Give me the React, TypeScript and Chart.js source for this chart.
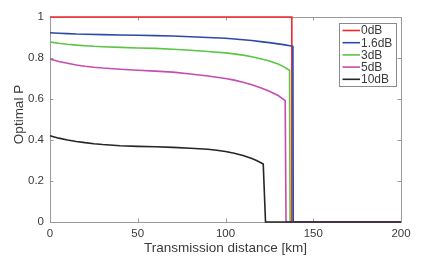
import React, { useEffect, useRef } from "react";
import { Chart, registerables } from "chart.js";

Chart.register(...registerables);

// ---- Data ----
const seriesLabels = ["0dB", "1.6dB", "3dB", "5dB", "10dB"];
const seriesColors = ["#f2262b", "#2d4ba6", "#5bc545", "#c64caf", "#262626"];

const km0dB = [0, 137.8, 137.8, 200];
const p0dB = [1, 1, 0, 0];

const km1p6dB = [0, 5, 10, 15, 20, 30, 40, 50, 60, 70, 80, 90, 100, 105, 110, 115, 120, 125, 130, 134, 138.4, 138.6, 200];
const p1p6dB = [0.923, 0.921, 0.919, 0.917, 0.916, 0.914, 0.912, 0.911, 0.909, 0.907, 0.904, 0.9, 0.896, 0.893, 0.889, 0.885, 0.88, 0.875, 0.869, 0.864, 0.857, 0, 0];

const km3dB = [0, 2.5, 5, 10, 15, 20, 25, 30, 40, 50, 60, 70, 80, 90, 100, 105, 110, 115, 120, 125, 130, 133, 136.5, 136.8, 200];
const p3dB = [0.878, 0.875, 0.872, 0.867, 0.863, 0.86, 0.857, 0.855, 0.852, 0.849, 0.847, 0.843, 0.838, 0.832, 0.825, 0.82, 0.814, 0.806, 0.796, 0.785, 0.771, 0.758, 0.74, 0, 0];

const km5dB = [0, 2.5, 5, 10, 15, 20, 25, 30, 40, 50, 60, 70, 80, 90, 100, 105, 110, 115, 120, 125, 130, 134, 134.5, 200];
const p5dB = [0.794, 0.789, 0.783, 0.774, 0.766, 0.76, 0.755, 0.751, 0.745, 0.74, 0.736, 0.731, 0.722, 0.712, 0.7, 0.692, 0.682, 0.67, 0.655, 0.638, 0.617, 0.592, 0, 0];

const km10dB = [0, 2.5, 5, 10, 15, 20, 25, 30, 40, 50, 60, 70, 80, 90, 95, 100, 105, 110, 115, 118, 121.5, 122.8, 200];
const p10dB = [0.421, 0.415, 0.409, 0.4, 0.393, 0.387, 0.382, 0.378, 0.372, 0.369, 0.367, 0.364, 0.36, 0.355, 0.35, 0.344, 0.335, 0.324, 0.31, 0.299, 0.283, 0, 0];

const xTicks = [0, 50, 100, 150, 200];
const yTicks = [0, 0.2, 0.4, 0.6, 0.8, 1];
const xTitle = "Transmission distance [km]";
const yTitle = "Optimal P";

const FONT = "'Liberation Sans', Arial, Helvetica, sans-serif";
const AXIS_COLOR = "#9a9a9a";
const TEXT_COLOR = "#3a3a3a";

const toPoints = (xs: number[], ys: number[]) => xs.map((x, i) => ({ x, y: ys[i] }));

const boxPlugin = {
  id: "matlabBox",
  beforeDatasetsDraw(chart: any) {
    const { ctx, chartArea } = chart;
    const { left, right, top, bottom } = chartArea;
    const xs = chart.scales.x;
    const ys = chart.scales.y;
    ctx.save();
    ctx.strokeStyle = AXIS_COLOR;
    ctx.lineWidth = 1;
    ctx.strokeRect(Math.round(left) + 0.5, Math.round(top) + 0.5, Math.round(right - left), Math.round(bottom - top));
    const tl = 3.5;
    ctx.beginPath();
    for (const v of xTicks) {
      const px = Math.round(xs.getPixelForValue(v)) + 0.5;
      ctx.moveTo(px, bottom);
      ctx.lineTo(px, bottom - tl);
      ctx.moveTo(px, top);
      ctx.lineTo(px, top + tl);
    }
    for (const v of yTicks) {
      const py = Math.round(ys.getPixelForValue(v)) + 0.5;
      ctx.moveTo(left, py);
      ctx.lineTo(left + tl, py);
      ctx.moveTo(right, py);
      ctx.lineTo(right - tl, py);
    }
    ctx.stroke();
    ctx.restore();
  },
  afterDraw(chart: any) {
    const { ctx, chartArea } = chart;
    // y axis title (rotated)
    ctx.save();
    ctx.fillStyle = TEXT_COLOR;
    ctx.font = `13.5px ${FONT}`;
    ctx.textAlign = "center";
    ctx.textBaseline = "middle";
    ctx.translate(19, (chartArea.top + chartArea.bottom) / 2 - 5);
    ctx.rotate(-Math.PI / 2);
    ctx.fillText(yTitle, 0, 0);
    ctx.restore();

    // legend box in the upper right of the plot area
    const fontSize = 12;
    const rowH = 12.2;
    const boxRight = chartArea.right - 5;
    const boxTop = chartArea.top + 6;
    const boxW = 57;
    const boxLeft = boxRight - boxW;
    const boxH = rowH * seriesLabels.length + 2;
    ctx.save();
    ctx.fillStyle = "#ffffff";
    ctx.fillRect(boxLeft, boxTop, boxW, boxH);
    ctx.strokeStyle = "#8a8a8a";
    ctx.lineWidth = 1;
    ctx.strokeRect(Math.round(boxLeft) + 0.5, Math.round(boxTop) + 0.5, Math.round(boxW), Math.round(boxH));
    ctx.font = `${fontSize}px ${FONT}`;
    ctx.textBaseline = "middle";
    ctx.textAlign = "left";
    chart.data.datasets.forEach((ds: any, i: number) => {
      const y = boxTop + 7.5 + i * rowH;
      ctx.strokeStyle = ds.borderColor;
      ctx.lineWidth = 1.6;
      ctx.beginPath();
      ctx.moveTo(boxLeft + 3.5, y);
      ctx.lineTo(boxLeft + 21, y);
      ctx.stroke();
      ctx.fillStyle = TEXT_COLOR;
      ctx.fillText(ds.label, boxLeft + 22, y + 0.5);
    });
    ctx.restore();
  },
};

export default function App() {
  const canvasRef = useRef<HTMLCanvasElement | null>(null);

  useEffect(() => {
    document.body.style.margin = "0";
    const canvas = canvasRef.current;
    if (!canvas) return;
    const xsList = [km0dB, km1p6dB, km3dB, km5dB, km10dB];
    const ysList = [p0dB, p1p6dB, p3dB, p5dB, p10dB];
    const chart = new Chart(canvas, {
      type: "line",
      data: {
        datasets: seriesLabels.map((label, i) => ({
          label,
          data: toPoints(xsList[i], ysList[i]),
          borderColor: seriesColors[i],
          backgroundColor: seriesColors[i],
          borderWidth: 1.6,
          pointRadius: 0,
          tension: 0,
          fill: false,
          clip: 3,
          order: seriesLabels.length - i,
        })),
      },
      options: {
        responsive: false,
        animation: false,
        devicePixelRatio: 1,
        layout: { padding: { left: 0, right: 35, top: 17, bottom: 0 } },
        plugins: { legend: { display: false }, tooltip: { enabled: false } },
        scales: {
          x: {
            type: "linear",
            min: 0,
            max: 200,
            afterBuildTicks: (s: any) => {
              s.ticks = xTicks.map((v) => ({ value: v }));
            },
            afterFit: (s: any) => {
              s.height = 40;
            },
            grid: { display: false, drawTicks: false },
            border: { display: false },
            ticks: {
              color: TEXT_COLOR,
              font: { family: FONT, size: 11.5 },
              padding: 5,
              maxRotation: 0,
              autoSkip: false,
            },
            title: {
              display: true,
              text: xTitle,
              color: TEXT_COLOR,
              font: { family: FONT, size: 13.5 },
              padding: { top: 0, bottom: 6 },
            },
          },
          y: {
            type: "linear",
            min: 0,
            max: 1,
            afterBuildTicks: (s: any) => {
              s.ticks = yTicks.map((v) => ({ value: v }));
            },
            afterFit: (s: any) => {
              s.width = 50;
            },
            grid: { display: false, drawTicks: false },
            border: { display: false },
            ticks: {
              color: TEXT_COLOR,
              font: { family: FONT, size: 11.5 },
              padding: 6,
              autoSkip: false,
              callback: (v: any) => String(Math.round(Number(v) * 10) / 10),
            },
          },
        },
      },
      plugins: [boxPlugin],
    });
    return () => chart.destroy();
  }, []);

  return <canvas ref={canvasRef} width={436} height={262} style={{ display: "block" }} />;
}
